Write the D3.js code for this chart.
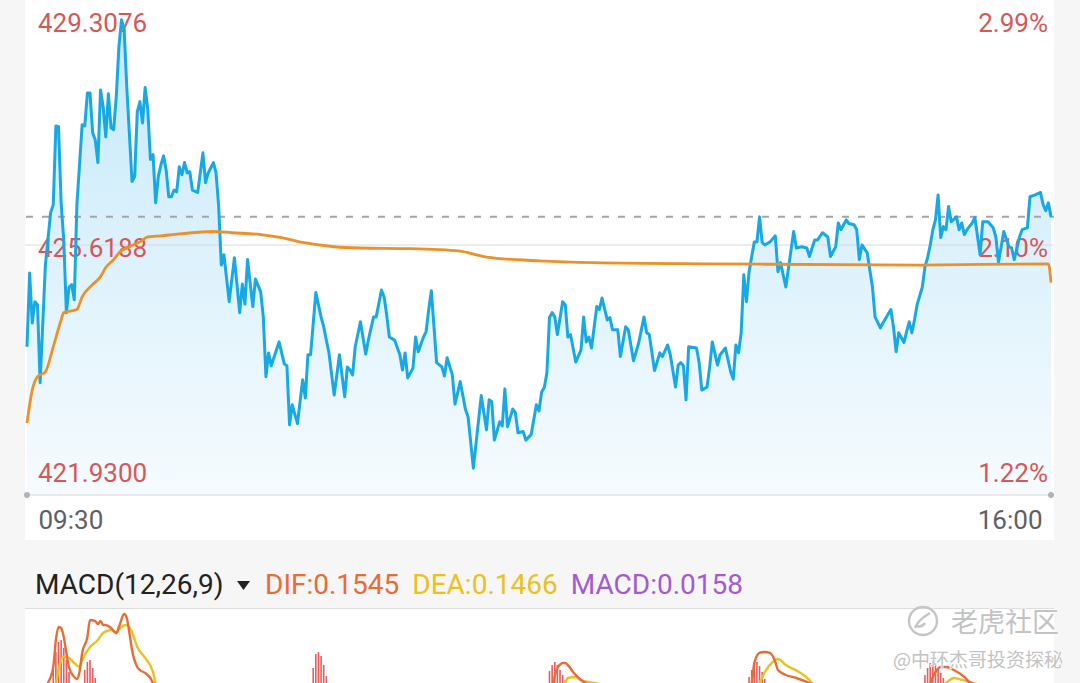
<!DOCTYPE html>
<html lang="zh-CN">
<head>
    <meta charset="UTF-8">
    <title>分时 MACD</title>
    <script src="https://cdn.jsdelivr.net/npm/d3@7/dist/d3.min.js"></script>
    <style>
        body { margin: 0; background: #f6f6f6; }
        svg { display: block; font-family: Roboto, "Noto Sans", sans-serif; }
    </style>
</head>
<body>
<svg></svg>
<script>
    // 分时价格：距 09:30 的分钟数，对应价格
    let priceTimes = [
        0, 1, 2, 3, 4, 5, 7, 9, 10, 11,
        12, 13, 14, 15, 16, 17, 18, 19, 21, 22,
        23, 24, 25, 26, 27, 28, 29, 30, 31, 32,
        33, 34, 35, 36, 37, 38, 40, 41, 42, 43,
        44, 45, 46, 47, 48, 49, 50, 51, 52, 53,
        54, 55, 56, 57, 58, 59, 60, 61, 62, 63,
        65, 67, 68, 69, 71, 72, 73, 74, 75, 77,
        79, 81, 82, 83, 84, 86, 87, 89, 90, 91,
        92, 93, 96, 98, 99, 100, 101, 103, 105, 106,
        107, 108, 110, 112, 113, 114, 115, 117, 119, 121,
        122, 123, 124, 125, 127, 129, 130, 132, 133, 135,
        136, 137, 138, 140, 142, 143, 144, 145, 147, 148,
        149, 151, 152, 153, 154, 156, 158, 159, 160, 162,
        163, 165, 167, 168, 170, 173, 175, 176, 177, 178,
        180, 181, 182, 183, 185, 186, 187, 189, 190, 192,
        194, 195, 196, 197, 198, 199, 200, 201, 202, 204,
        205, 206, 207, 209, 211, 212, 213, 214, 215, 217,
        218, 219, 221, 222, 223, 225, 226, 228, 229, 231,
        233, 235, 236, 237, 239, 241, 242, 244, 245, 247,
        248, 249, 250, 251, 252, 255, 256, 257, 259, 260,
        261, 263, 264, 266, 268, 269, 270, 271, 272, 273,
        274, 275, 277, 278, 279, 280, 281, 283, 285, 286,
        287, 289, 291, 292, 293, 295, 297, 298, 300, 301,
        303, 305, 306, 308, 309, 310, 312, 313, 315, 316,
        317, 318, 320, 322, 323, 325, 326, 329, 330, 331,
        332, 334, 335, 336, 337, 338, 339, 341, 342, 343,
        344, 345, 346, 347, 348, 349, 350, 351, 352, 354,
        355, 356, 357, 358, 360, 361, 363, 364, 366, 368,
        369, 370, 372, 374, 375, 376, 378, 379, 381, 382,
        384, 386, 387, 388, 389, 390
    ];
    let prices = [
        423.95, 425.16, 424.34, 424.69, 424.64, 423.36, 425.29, 426.15, 426.28, 427.57,
        427.56, 426.31, 425.70, 424.51, 424.93, 424.97, 424.72, 426.28, 427.59, 427.57,
        428.11, 428.11, 427.46, 427.34, 426.97, 428.16, 427.89, 427.39, 428.10, 427.54,
        427.51, 428.05, 428.87, 429.31, 429.15, 428.21, 426.66, 426.74, 427.80, 427.97,
        427.62, 428.20, 427.84, 427.02, 427.10, 426.31, 426.74, 426.93, 427.08, 426.85,
        426.41, 426.41, 426.52, 426.49, 426.90, 426.77, 426.97, 426.80, 426.82, 426.52,
        426.48, 427.13, 426.64, 426.80, 426.97, 426.80, 426.25, 425.29, 425.46, 424.69,
        425.41, 424.51, 424.98, 424.65, 425.38, 424.61, 425.06, 424.85, 424.44, 423.46,
        423.85, 423.64, 424.03, 423.67, 423.64, 422.67, 423.00, 422.69, 423.41, 423.11,
        423.82, 423.82, 424.84, 424.44, 424.28, 424.06, 423.85, 423.16, 423.82, 423.13,
        423.62, 423.57, 423.49, 423.95, 424.36, 423.83, 424.06, 424.44, 424.44, 424.88,
        424.77, 424.47, 424.11, 424.06, 423.82, 423.57, 423.85, 423.44, 423.60, 424.11,
        423.87, 424.11, 424.20, 424.56, 424.87, 423.69, 423.62, 423.47, 423.77, 423.49,
        423.01, 423.38, 422.92, 422.80, 421.96, 423.15, 422.59, 423.08, 423.05, 422.42,
        422.72, 422.65, 423.26, 422.64, 422.93, 422.87, 422.54, 422.56, 422.42, 422.51,
        423.00, 422.90, 423.21, 423.28, 423.52, 424.43, 424.51, 424.44, 424.15, 424.69,
        424.64, 424.11, 424.15, 423.70, 423.90, 424.44, 424.03, 424.11, 423.93, 424.61,
        424.56, 424.75, 424.39, 424.43, 424.23, 424.23, 423.79, 424.28, 424.23, 423.72,
        424.02, 424.44, 424.18, 424.15, 423.56, 423.85, 423.79, 423.98, 423.82, 423.29,
        423.65, 423.69, 423.64, 423.08, 423.95, 423.93, 423.69, 423.24, 423.29, 423.62,
        424.03, 423.65, 423.82, 423.93, 423.54, 423.42, 423.98, 423.85, 424.18, 425.13,
        424.69, 425.18, 425.67, 425.67, 426.08, 425.66, 425.62, 425.67, 425.77, 425.18,
        425.33, 424.93, 425.54, 425.84, 425.57, 425.59, 425.57, 425.43, 425.70, 425.70,
        425.82, 425.75, 425.43, 425.59, 425.98, 425.87, 426.03, 425.97, 425.95, 425.87,
        425.38, 425.62, 425.49, 424.93, 424.44, 424.26, 424.34, 424.56, 424.28, 423.87,
        424.18, 424.02, 424.20, 424.36, 424.18, 424.39, 424.64, 424.93, 425.26, 425.41,
        425.62, 425.87, 426.03, 426.44, 425.74, 425.92, 425.87, 426.25, 426.00, 426.08,
        425.87, 425.98, 425.79, 425.87, 425.98, 426.07, 425.46, 426.00, 426.00, 425.90,
        425.75, 425.34, 425.84, 425.59, 425.57, 425.38, 425.75, 425.87, 425.90, 426.41,
        426.44, 426.48, 426.28, 426.18, 426.31, 426.08
    ];
    // 均价线
    let avgTimes = [0, 2, 4, 7, 10, 13, 14, 19, 21, 25, 28, 30, 33, 35, 39, 43, 46, 51, 58, 71,
        78, 89, 97, 105, 117, 127, 146, 165, 170, 175, 195, 216, 264, 340, 389, 390];
    let avgPrices = [422.70, 423.24, 423.46, 423.54, 423.95, 424.39, 424.51, 424.56, 424.77, 424.97,
        425.10, 425.25, 425.38, 425.49, 425.59, 425.67, 425.75, 425.77, 425.80, 425.84,
        425.82, 425.79, 425.74, 425.66, 425.59, 425.57, 425.56, 425.52, 425.47, 425.42,
        425.36, 425.33, 425.31, 425.29, 425.31, 425.00];

    // 坐标轴文字
    let priceLabels = ["429.3076", "425.6188", "421.9300"];
    let pctLabels = ["2.99%", "2.10%", "1.22%"];
    let timeTicks = [0, 390];
    let timeLabels = ["09:30", "16:00"];

    // MACD(12,26,9)
    let difTimes = [0, 8, 10, 11, 12, 13, 14, 15, 16, 18,
        19, 20, 21, 23, 24, 26, 27, 28, 29, 30,
        32, 34, 35, 37, 38, 39, 40, 42, 43, 45,
        47, 48, 60, 80, 90, 100, 110, 125, 150, 170,
        190, 198, 200, 201, 202, 203, 204, 205, 206, 208,
        211, 213, 220, 240, 260, 272, 276, 277, 279, 281,
        283, 285, 286, 289, 293, 297, 310, 325, 338, 344,
        346, 348, 350, 353, 357, 359, 370, 390];
    let difValues = [0, 0.245, 0.415, 0.702, 0.840, 0.830, 0.734, 0.564, 0.415, 0.309,
        0.287, 0.362, 0.564, 0.734, 0.915, 0.904, 0.872, 0.904, 0.862, 0.862,
        0.830, 0.777, 0.840, 0.979, 0.936, 0.777, 0.596, 0.415, 0.383, 0.351,
        0.298, 0.245, 0.05, -0.25, -0.2, -0.05, 0.15, 0.05, -0.2, -0.4,
        -0.1, 0.15, 0.2, 0.32, 0.404, 0.44, 0.457, 0.457, 0.436, 0.362,
        0.277, 0.24, 0.15, -0.05, -0.1, 0.1, 0.245, 0.457, 0.564, 0.574,
        0.564, 0.468, 0.383, 0.330, 0.298, 0.255, 0.1, -0.15, 0.0, 0.245,
        0.362, 0.415, 0.415, 0.383, 0.309, 0.255, 0.18, 0.1545];
    let deaTimes = [0, 11, 12, 13, 14, 16, 18, 20, 21, 24,
        27, 29, 32, 34, 35, 38, 40, 42, 45, 48,
        49, 60, 80, 100, 110, 125, 150, 170, 195, 205,
        206, 209, 211, 216, 230, 250, 270, 279, 281, 284,
        286, 289, 294, 298, 299, 320, 340, 350, 353, 356,
        360, 375, 390];
    let deaValues = [0, 0.245, 0.383, 0.489, 0.521, 0.511, 0.457, 0.415, 0.489, 0.628,
        0.702, 0.777, 0.809, 0.777, 0.819, 0.862, 0.787, 0.628, 0.511, 0.362,
        0.245, 0.1, -0.1, -0.2, -0.1, 0.0, -0.1, -0.25, -0.05, 0.245,
        0.298, 0.309, 0.277, 0.245, 0.15, 0.05, 0.05, 0.245, 0.362, 0.468,
        0.500, 0.436, 0.362, 0.277, 0.245, 0.05, 0.05, 0.245, 0.298, 0.277,
        0.245, 0.17, 0.1466];
    let histTimes = [10, 11, 12, 13, 14, 15, 16, 22, 23, 24, 25, 26,
        109, 110, 111, 112, 113, 114,
        199, 200, 201, 202, 203, 204, 205,
        275, 276, 277, 278, 279, 280, 281,
        342, 343, 344, 345, 346, 347, 348, 349];
    let histValues = [0.404, 0.574, 0.681, 0.702, 0.617, 0.489, 0.362, 0.383, 0.468, 0.489, 0.404, 0.298,
        0.404, 0.553, 0.574, 0.532, 0.436, 0.319,
        0.372, 0.436, 0.468, 0.436, 0.383, 0.330, 0.277,
        0.309, 0.383, 0.447, 0.468, 0.426, 0.362, 0.287,
        0.330, 0.404, 0.457, 0.489, 0.457, 0.404, 0.351, 0.298];
    let macdTitle = "MACD(12,26,9)";
    let legendTexts = ["DIF:0.1545", "DEA:0.1466", "MACD:0.0158"];
    let legendColors = ["#ea6b34", "#ecc11c", "#a35ad6"];

    let width = 1080, height = 683;
    let plotBottom = 495;
    let svg = d3.select("svg").attr("width", width).attr("height", height);

    // 背景：灰底 + 白色面板
    svg.append("rect").attr("width", width).attr("height", height).attr("fill", "#f6f6f6");
    svg.append("rect").attr("x", 25).attr("y", 0).attr("width", 1029).attr("height", 540).attr("fill", "#fff");
    svg.append("rect").attr("x", 25).attr("y", 609).attr("width", 1029).attr("height", 74).attr("fill", "#fff");

    let labelVals = priceLabels.map(Number);
    let x = d3.scaleLinear().domain([0, 390]).range([27, 1051]);
    let y = d3.scaleLinear().domain([labelVals[2], labelVals[0]]).range([470, 20]);

    let pts = priceTimes.map((t, i) => ({t: t, v: prices[i]}));
    let avgPts = avgTimes.map((t, i) => ({t: t, v: avgPrices[i]}));

    // 渐变填充
    let defs = svg.append("defs");
    let grad = defs.append("linearGradient").attr("id", "fillGrad")
        .attr("gradientUnits", "userSpaceOnUse")
        .attr("x1", 0).attr("y1", 20).attr("x2", 0).attr("y2", plotBottom);
    grad.append("stop").attr("offset", "0%").attr("stop-color", "#c4e9fa");
    grad.append("stop").attr("offset", "100%").attr("stop-color", "#f6fbfe");

    svg.append("path").datum(pts)
        .attr("fill", "url(#fillGrad)")
        .attr("d", d3.area().x(d => x(d.t)).y0(plotBottom).y1(d => y(d.v)));

    // 昨收线 & 现价虚线
    svg.append("line").attr("x1", 25).attr("x2", 1054)
        .attr("y1", y(labelVals[1])).attr("y2", y(labelVals[1]))
        .attr("stroke", "#dadada").attr("stroke-width", 1);
    let lastY = y(prices[prices.length - 1]);
    svg.append("line").attr("x1", 26).attr("x2", 1054)
        .attr("y1", lastY).attr("y2", lastY)
        .attr("stroke", "#a2a6ab").attr("stroke-width", 2).attr("stroke-dasharray", "7,9");

    // 底部时间轴
    svg.append("line").attr("x1", 25).attr("x2", 1054).attr("y1", plotBottom).attr("y2", plotBottom)
        .attr("stroke", "#e2e2e2").attr("stroke-width", 1.5);
    svg.selectAll(".end-dot").data(timeTicks).enter().append("circle")
        .attr("cx", d => x(d)).attr("cy", plotBottom).attr("r", 3).attr("fill", "#b3b3b3");
    let gx = svg.append("g").attr("transform", "translate(0," + plotBottom + ")")
        .call(d3.axisBottom(x).tickValues(timeTicks).tickSize(0).tickFormat((d, i) => timeLabels[i]));
    gx.attr("font-size", null).attr("font-family", null);
    gx.select(".domain").remove();
    gx.selectAll("text")
        .attr("y", 34).attr("dy", null)
        .attr("font-size", 26).attr("fill", "#5c6068")
        .attr("text-anchor", (d, i) => i ? "end" : "start")
        .attr("dx", (d, i) => i ? -9 : 11);

    // 左右价格 / 涨幅标签
    let gl = svg.append("g").attr("transform", "translate(38,0)")
        .call(d3.axisRight(y).tickValues(labelVals).tickSize(0).tickPadding(0).tickFormat((d, i) => priceLabels[i]));
    let gr = svg.append("g").attr("transform", "translate(1048,0)")
        .call(d3.axisLeft(y).tickValues(labelVals).tickSize(0).tickPadding(0).tickFormat((d, i) => pctLabels[i]));
    [gl, gr].forEach(g => {
        g.attr("font-size", null).attr("font-family", null);
        g.select(".domain").remove();
        g.selectAll("text").attr("dy", "0.44em").attr("font-size", 26).attr("fill", "#d75757");
    });

    // 价格线 & 均价线
    svg.append("path").datum(pts)
        .attr("fill", "none").attr("stroke", "#17a9e6").attr("stroke-width", 3)
        .attr("stroke-linejoin", "round")
        .attr("d", d3.line().x(d => x(d.t)).y(d => y(d.v)));
    svg.append("path").datum(avgPts)
        .attr("fill", "none").attr("stroke", "#ec9128").attr("stroke-width", 2.8)
        .attr("d", d3.line().curve(d3.curveMonotoneX).x(d => x(d.t)).y(d => y(d.v)));

    // MACD 标题栏
    svg.append("line").attr("x1", 25).attr("x2", 1054).attr("y1", 608.5).attr("y2", 608.5)
        .attr("stroke", "#dedede").attr("stroke-width", 1);
    svg.append("text").attr("x", 35).attr("y", 594)
        .attr("font-size", 28).attr("fill", "#222").text(macdTitle);
    svg.append("path").attr("d", "M237,581L250,581L243.5,590Z").attr("fill", "#222");
    let lx = 265;
    legendTexts.forEach((t, i) => {
        let el = svg.append("text").attr("x", lx).attr("y", 594)
            .attr("font-size", 28).attr("fill", legendColors[i]).text(t);
        lx += el.node().getComputedTextLength() + 13;
    });

    // MACD 副图
    let my = d3.scaleLinear().domain([-1, 1]).range([800, 612]);
    defs.append("clipPath").attr("id", "macdClip")
        .append("rect").attr("x", 25).attr("y", 609).attr("width", 1029).attr("height", 80);
    let gm = svg.append("g").attr("clip-path", "url(#macdClip)");

    gm.selectAll("rect.bar").data(histTimes).enter().append("rect")
        .attr("class", "bar")
        .attr("x", d => x(d) - 0.8).attr("width", 1.6)
        .attr("y", (d, i) => my(histValues[i]))
        .attr("height", (d, i) => my(0) - my(histValues[i]))
        .attr("fill", "#e85c5e");

    let macdLine = d3.line().curve(d3.curveMonotoneX).x(d => x(d.t)).y(d => my(d.v));
    gm.append("path").datum(deaTimes.map((t, i) => ({t: t, v: deaValues[i]})))
        .attr("fill", "none").attr("stroke", legendColors[1]).attr("stroke-width", 2.4)
        .attr("d", macdLine);
    gm.append("path").datum(difTimes.map((t, i) => ({t: t, v: difValues[i]})))
        .attr("fill", "none").attr("stroke", legendColors[0]).attr("stroke-width", 2.4)
        .attr("d", macdLine);

    // 水印
    let wm = svg.append("g").attr("fill", "#c3c3c3").attr("stroke", "#fff")
        .attr("stroke-width", 1.2).attr("paint-order", "stroke")
        .attr("font-family", "'Noto Sans CJK SC', sans-serif");
    wm.append("circle").attr("cx", 923).attr("cy", 621).attr("r", 14)
        .attr("fill", "none").attr("stroke", "#c6c6c6").attr("stroke-width", 2.4);
    wm.append("path").attr("d", "M915,628 C918,620 925,616 930,613 M917,626 c3,1 6,0 8,-3")
        .attr("fill", "none").attr("stroke", "#c6c6c6").attr("stroke-width", 2.4);
    wm.append("text").attr("x", 951).attr("y", 632).attr("font-size", 27).text("老虎社区");
    wm.append("text").attr("x", 893).attr("y", 667).attr("font-size", 19).text("@中环杰哥投资探秘");
</script>
</body>
</html>
